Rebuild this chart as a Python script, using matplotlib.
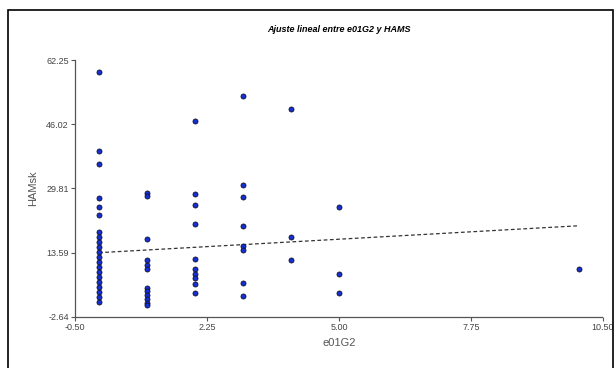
import numpy as np
import matplotlib
matplotlib.use("Agg")
import matplotlib.pyplot as plt
from matplotlib.patches import Rectangle

# e01G2 groups and HAMS values
x0 = [59.3, 39.2, 36.0, 27.3, 25.2, 23.2, 18.9, 17.6, 16.3, 15.0, 13.8, 12.5, 11.3,
      10.0, 8.7, 7.5, 6.2, 5.0, 3.7, 2.4, 1.2]
x1 = [28.7, 28.0, 17.0, 11.7, 10.6, 9.6, 4.8, 3.9, 2.9, 2.0, 0.9, 0.3]
x2 = [46.9, 28.5, 25.6, 20.8, 11.9, 9.6, 8.3, 7.1, 5.8, 3.3]
x3 = [53.2, 30.8, 27.7, 20.3, 15.2, 14.2, 6.0, 2.6]
x4 = [49.8, 17.6, 11.7]
x5 = [25.2, 8.1, 3.5]
x10 = [9.6]

groups = [0, 1, 2, 3, 4, 5, 10]
values = [x0, x1, x2, x3, x4, x5, x10]

xs = np.concatenate([[g] * len(v) for g, v in zip(groups, values)])
ys = np.concatenate(values)

# fitted line as drawn in the picture (many points overlap, so a refit drifts)
fit_intercept = 13.6
fit_slope = 0.68
line_x = np.array([0, 10])
line_y = fit_intercept + fit_slope * line_x

xticks = [-0.50, 2.25, 5.00, 7.75, 10.50]
yticks = [-2.64, 13.58, 29.81, 46.03, 62.25]
ytick_labels = ["-2.64", "13.59", "29.81", "46.02", "62.25"]

plt.rcParams["font.family"] = ["Liberation Sans", "DejaVu Sans"]

fig = plt.figure(figsize=(6.16, 3.68), dpi=100)
fig.patches.append(Rectangle((8 / 616, -10 / 368), 605 / 616, 368 / 368,
                             transform=fig.transFigure, fill=False,
                             edgecolor="black", linewidth=1.2))
ax = fig.add_axes([75 / 616, 51 / 368, 528 / 616, 257 / 368])

ax.plot(line_x, line_y, color="#333333", linestyle=(0, (3, 2)), linewidth=0.9, zorder=1)
ax.scatter(xs, ys, s=13, color="#1430d0", edgecolor="#101030", linewidth=0.6, zorder=2)

ax.set_xlim(-0.5, 10.5)
ax.set_ylim(-2.64, 62.25)
ax.set_xticks(xticks)
ax.set_xticklabels([f"{v:.2f}" for v in xticks])
ax.set_yticks(yticks)
ax.set_yticklabels(ytick_labels)

for side in ["top", "right"]:
    ax.spines[side].set_visible(False)
for side in ["left", "bottom"]:
    ax.spines[side].set_linestyle((0, (1.5, 1)))
    ax.spines[side].set_color("#555555")
    ax.spines[side].set_linewidth(0.9)
ax.tick_params(direction="out", length=3, width=0.8, color="#555555",
               labelsize=6.5, labelcolor="#444444", pad=1.5)

ax.set_xlabel("e01G2", fontsize=8, color="#555555", labelpad=4)
ax.set_ylabel("HAMsk", fontsize=8, color="#555555", labelpad=6)
fig.text(339 / 616, 1 - 30 / 368, "Ajuste lineal entre e01G2 y HAMS", ha="center",
         va="center", fontsize=6.5, fontweight="bold", fontstyle="italic")

fig.savefig("out.png", dpi=100)
